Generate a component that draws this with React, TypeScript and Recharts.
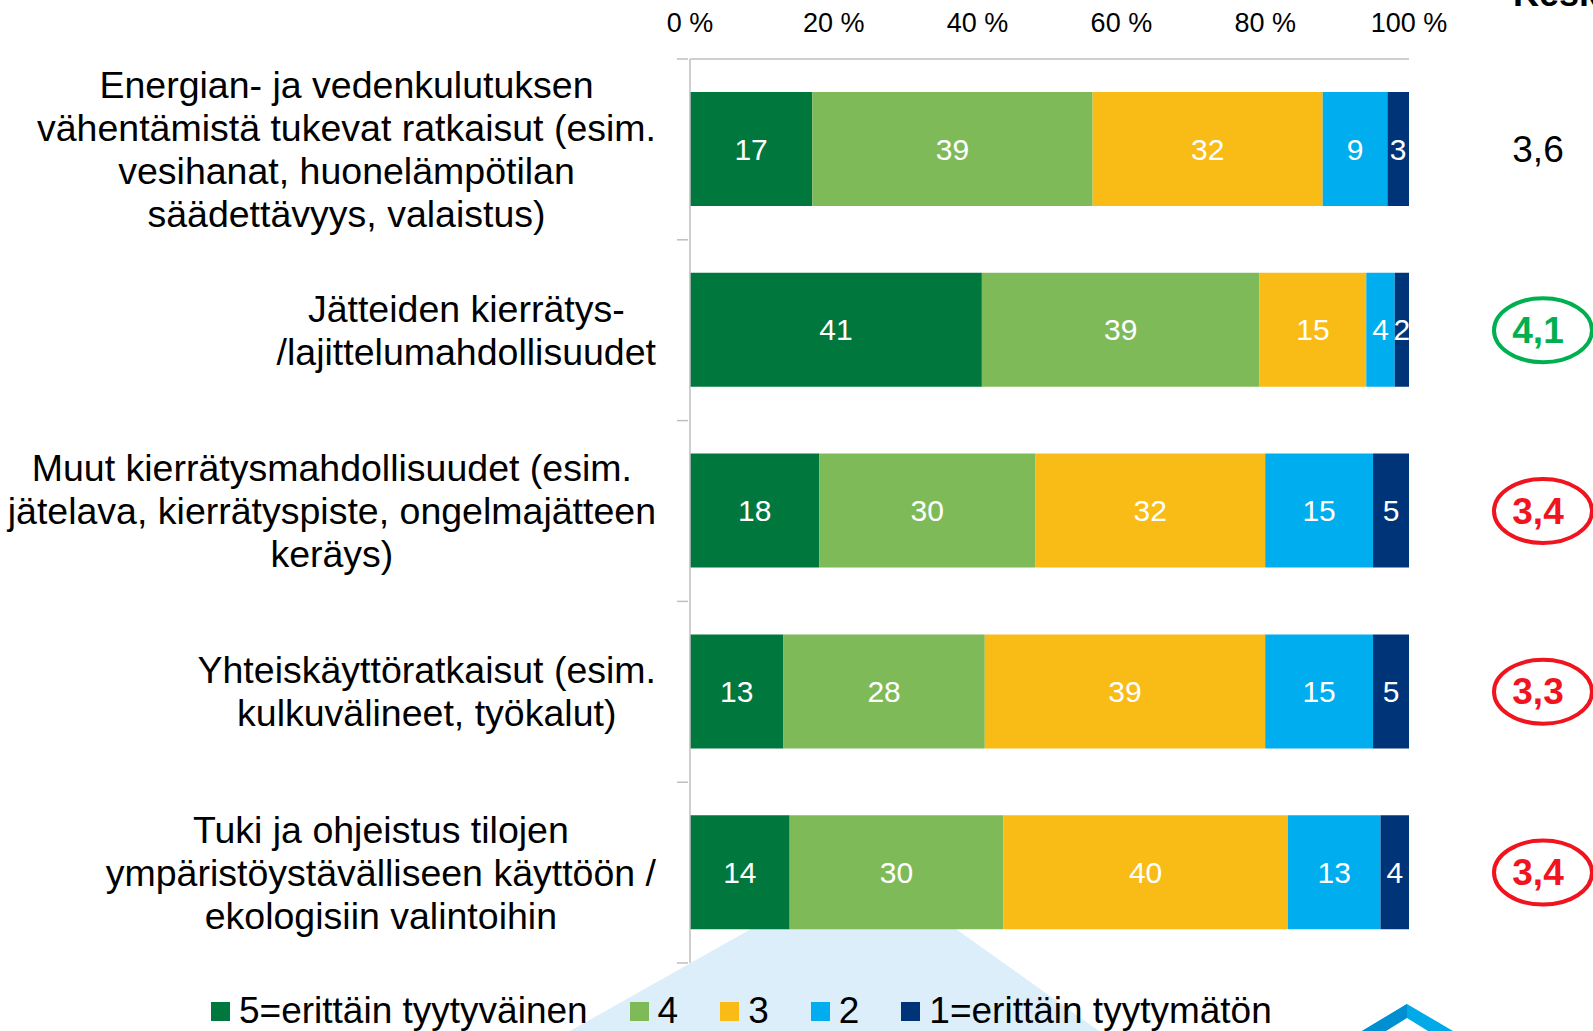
import { BarChart, Bar, XAxis, YAxis, LabelList } from "recharts";

const categories = [
    "Energian- ja vedenkulutuksen\nvähentämistä tukevat ratkaisut (esim.\nvesihanat, huonelämpötilan\nsäädettävyys, valaistus)",
    "Jätteiden kierrätys-\n/lajittelumahdollisuudet",
    "Muut kierrätysmahdollisuudet (esim.\njätelava, kierrätyspiste, ongelmajätteen\nkeräys)",
    "Yhteiskäyttöratkaisut (esim.\nkulkuvälineet, työkalut)",
    "Tuki ja ohjeistus tilojen\nympäristöystävälliseen käyttöön /\nekologisiin valintoihin"
];

const v5 = [17, 41, 18, 13, 14];
const v4 = [39, 39, 30, 28, 30];
const v3 = [32, 15, 32, 39, 40];
const v2 = [9, 4, 15, 15, 13];
const v1 = [3, 2, 5, 5, 4];

const means = ["3,6", "4,1", "3,4", "3,3", "3,4"];
const meanMark = ["none", "good", "bad", "bad", "bad"];

const xTicks = [0, 0.2, 0.4, 0.6, 0.8, 1];

const series = [
    { key: "v5", name: "5=erittäin tyytyväinen", color: "#00773d" },
    { key: "v4", name: "4", color: "#7fba58" },
    { key: "v3", name: "3", color: "#f9bc16" },
    { key: "v2", name: "2", color: "#00adee" },
    { key: "v1", name: "1=erittäin tyytymätön", color: "#003479" }
];

const data = categories.map((name, i) => ({
    name,
    v5: v5[i],
    v4: v4[i],
    v3: v3[i],
    v2: v2[i],
    v1: v1[i]
}));

const FONT = "'Liberation Sans', Arial, sans-serif";
const W = 1593;
const H = 1031;
const M = { top: 0, right: 0, bottom: 68, left: 0 };
const X_AXIS_H = 59;
const Y_AXIS_W = 690;
const RIGHT_W = 184;
const band = (H - M.top - M.bottom - X_AXIS_H) / categories.length;

const LABEL_SIZE = 37.5;
const LINE_H = 43;

let ctx: CanvasRenderingContext2D | null = null;
function textWidth(s: string) {
    if (!ctx) ctx = document.createElement("canvas").getContext("2d");
    if (!ctx) return s.length * LABEL_SIZE * 0.5;
    ctx.font = `${LABEL_SIZE}px ${FONT}`;
    return ctx.measureText(s).width;
}

const CategoryTick = (props: any) => {
    const { x, y, payload, index } = props;
    const lines = String(payload.value).split("\n");
    const maxW = Math.max(...lines.map(textWidth));
    const right = x - 32;
    const cx = right - maxW / 2;
    const y0 = y - ((lines.length - 1) * LINE_H) / 2;
    return (
        <g>
            <line x1={x - 11} x2={x} y1={y - band / 2} y2={y - band / 2} stroke="#bfbfbf" strokeWidth={1.5} />
            {index === categories.length - 1 && (
                <line x1={x - 11} x2={x} y1={y + band / 2} y2={y + band / 2} stroke="#bfbfbf" strokeWidth={1.5} />
            )}
            <text textAnchor="middle" fontSize={LABEL_SIZE} fontFamily={FONT} fill="#000">
                {lines.map((l, i) => (
                    <tspan key={i} x={cx} y={y0 + i * LINE_H} dominantBaseline="central">
                        {l}
                    </tspan>
                ))}
            </text>
        </g>
    );
};

const MeanTick = (props: any) => {
    const { x, y, index } = props;
    const mark = meanMark[index];
    const color = mark === "good" ? "#00b050" : mark === "bad" ? "#f0141e" : "#000";
    return (
        <g>
            {mark !== "none" && (
                <ellipse cx={x + 132} cy={y} rx={49} ry={32} fill="none" stroke={color} strokeWidth={4} />
            )}
            <text
                x={x + 127}
                y={y}
                textAnchor="middle"
                dominantBaseline="central"
                fontSize={37}
                fontWeight={mark === "none" ? 400 : 700}
                fontFamily={FONT}
                fill={color}
            >
                {means[index]}
            </text>
        </g>
    );
};

const PctTick = (props: any) => {
    const { x, y, payload } = props;
    return (
        <text x={x} y={y - 34} textAnchor="middle" dominantBaseline="central" fontSize={27} fontFamily={FONT} fill="#000">
            {Math.round(payload.value * 100)} %
        </text>
    );
};

export default function App() {
    return (
        <div style={{ position: "fixed", left: 0, top: 0, width: W, height: H, background: "#fff", overflow: "hidden", fontFamily: FONT }}>
            {/* decorative background shapes */}
            <svg width={W} height={H} style={{ position: "absolute", left: 0, top: 0 }}>
                <polygon points="751,929 956,929 1099,1031 570,1031" fill="#dbeef9" />
                <polygon points="1407,1004 1453,1031 1362,1031" fill="#00a9e8" />
                <polygon points="1407,1004 1407,1031 1362,1031" fill="#0090d2" />
                <polygon points="1407,1018 1428,1031 1386,1031" fill="#fff" />
            </svg>
            <div style={{ position: "absolute", left: 0, top: 0 }}>
                <BarChart
                    width={W}
                    height={H}
                    data={data}
                    layout="vertical"
                    stackOffset="expand"
                    margin={M}
                    barSize={114}
                >
                    <XAxis
                        type="number"
                        orientation="top"
                        domain={[0, 1]}
                        ticks={xTicks}
                        height={X_AXIS_H}
                        tickLine={false}
                        tickSize={0}
                        tick={<PctTick />}
                        axisLine={{ stroke: "#bfbfbf", strokeWidth: 1.5 }}
                        interval={0}
                    />
                    <YAxis
                        yAxisId="left"
                        type="category"
                        dataKey="name"
                        width={Y_AXIS_W}
                        tickLine={false}
                        tickSize={0}
                        tick={<CategoryTick />}
                        axisLine={{ stroke: "#bfbfbf", strokeWidth: 1.5 }}
                        interval={0}
                    />
                    <YAxis
                        yAxisId="right"
                        orientation="right"
                        type="category"
                        dataKey="name"
                        width={RIGHT_W}
                        tickLine={false}
                        axisLine={false}
                        tickSize={0}
                        tick={<MeanTick />}
                        interval={0}
                    />
                    {series.map((s) => (
                        <Bar key={s.key} dataKey={s.key} name={s.name} stackId="a" yAxisId="left" fill={s.color} isAnimationActive={false}>
                            <LabelList dataKey={s.key} position="center" fill="#fff" fontSize={30} fontFamily={FONT} />
                        </Bar>
                    ))}
                </BarChart>
            </div>
            <span
                style={{
                    position: "absolute",
                    left: 1513,
                    top: -27,
                    fontSize: 36,
                    fontWeight: 700
                }}
            >
                Keskiarvo
            </span>
            <div
                style={{
                    position: "absolute",
                    left: 211,
                    top: 990,
                    display: "flex",
                    alignItems: "center",
                    fontSize: 37,
                    lineHeight: "42px",
                    whiteSpace: "nowrap"
                }}
            >
                {series.map((s) => (
                    <div key={s.key} style={{ display: "flex", alignItems: "center", marginRight: 42 }}>
                        <span style={{ width: 19, height: 19, background: s.color, marginRight: 9, display: "inline-block" }} />
                        <span>{s.name}</span>
                    </div>
                ))}
            </div>
        </div>
    );
}
